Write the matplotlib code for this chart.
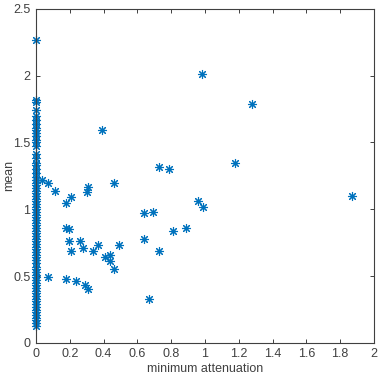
import matplotlib
matplotlib.use("Agg")
import matplotlib.pyplot as plt

# ── Data ─────────────────────────────────────────────────────
# points with zero minimum attenuation (the dense column at x = 0)
zero_mean = [2.27, 1.82, 1.80, 1.74, 1.70, 1.67, 1.64, 1.61, 1.59, 1.57,
             1.55, 1.52, 1.50, 1.47, 1.41, 1.38, 1.35, 1.33, 1.30, 1.27,
             1.24, 1.22, 1.20, 1.18, 1.16, 1.14, 1.12, 1.10, 1.08, 1.06,
             1.04, 1.02, 1.00, 0.98, 0.96, 0.94, 0.92, 0.90, 0.88, 0.86,
             0.84, 0.82, 0.80, 0.78, 0.76, 0.74, 0.72, 0.70, 0.68, 0.66,
             0.64, 0.62, 0.60, 0.57, 0.55, 0.53, 0.51, 0.49, 0.47, 0.45,
             0.43, 0.41, 0.39, 0.37, 0.35, 0.33, 0.31, 0.29, 0.27, 0.25,
             0.23, 0.21, 0.19, 0.17, 0.15, 0.13]

# points with non-zero minimum attenuation
min_att = [0.98, 1.28, 0.39, 0.73, 0.79, 1.18, 0.96, 0.99, 1.87, 0.46,
           0.30, 0.31, 0.035, 0.07, 0.11, 0.21, 0.18, 0.18, 0.195, 0.195,
           0.21, 0.26, 0.28, 0.34, 0.37, 0.41, 0.44, 0.44, 0.46, 0.49,
           0.07, 0.18, 0.24, 0.29, 0.31, 0.64, 0.69, 0.64, 0.73, 0.81,
           0.89, 0.67]
mean_val = [2.01, 1.79, 1.59, 1.32, 1.30, 1.35, 1.06, 1.02, 1.10, 1.20,
            1.13, 1.17, 1.22, 1.20, 1.14, 1.09, 1.05, 0.86, 0.85, 0.76,
            0.69, 0.76, 0.71, 0.69, 0.73, 0.64, 0.66, 0.61, 0.55, 0.73,
            0.49, 0.48, 0.46, 0.43, 0.40, 0.97, 0.98, 0.78, 0.69, 0.84,
            0.86, 0.33]

X_TICKS = [0, 0.2, 0.4, 0.6, 0.8, 1, 1.2, 1.4, 1.6, 1.8, 2]
Y_TICKS = [0, 0.5, 1, 1.5, 2, 2.5]

BLUE = "#0072BD"
GREY = "#404040"

plt.rcParams["font.family"] = ["Liberation Sans", "DejaVu Sans"]

fig = plt.figure(figsize=(3.82, 3.84), dpi=100)
ax = fig.add_axes([0.094, 0.107, 0.885, 0.870])

# MATLAB-style asterisk marker (plus overlaid with a cross)
star = (8, 2, 0)
ax.plot([0] * len(zero_mean), zero_mean, linestyle="none", marker=star,
        markersize=6.5, markeredgewidth=0.8, color=BLUE, clip_on=False)
ax.plot(min_att, mean_val, linestyle="none", marker=star,
        markersize=6.5, markeredgewidth=0.8, color=BLUE, clip_on=False)

ax.set_xlim(0, 2)
ax.set_ylim(0, 2.5)
ax.set_xticks(X_TICKS)
ax.set_xticklabels(["0", "0.2", "0.4", "0.6", "0.8", "1", "1.2", "1.4",
                    "1.6", "1.8", "2"])
ax.set_yticks(Y_TICKS)
ax.set_yticklabels(["0", "0.5", "1", "1.5", "2", "2.5"])

ax.tick_params(direction="in", length=3, width=0.7, colors=GREY,
               labelsize=9, top=True, right=True, pad=4)
for s in ax.spines.values():
    s.set_color(GREY)
    s.set_linewidth(0.8)

ax.set_xlabel("minimum attenuation", fontsize=9, color=GREY, labelpad=2)
ax.set_ylabel("mean", fontsize=9, color=GREY)
ax.yaxis.set_label_coords(-0.062, 0.5)

fig.savefig("out.png", dpi=100)
